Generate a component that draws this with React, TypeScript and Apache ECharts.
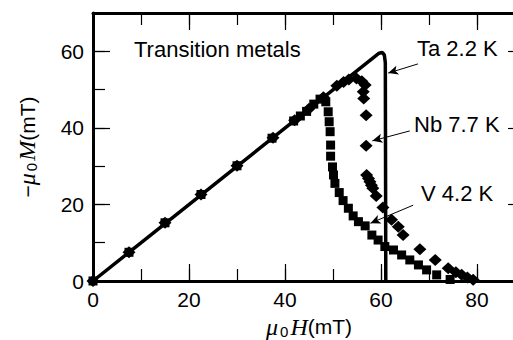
import React, { useEffect, useRef } from "react";
import * as echarts from "echarts";

// Ta 2.2 K : solid line (field, magnetisation) in mT
const taLine: number[][] = [
  [0, 0], [59.6, 59.5], [60.3, 59.7], [60.7, 59.0], [60.9, 57.0], [61.0, 0],
];

// Nb 7.7 K : diamonds
const nbPoints: number[][] = [
  [0, 0], [7.5, 7.5], [15, 15.2], [22.5, 22.6], [30, 30.1], [37.5, 37.4],
  [42, 42], [45, 45], [48, 48], [50.8, 51.0], [52.2, 52.0], [53.3, 52.6],
  [54.9, 52.9], [56.0, 52.2], [56.7, 51.2], [56.3, 49.4], [56.4, 47.7],
  [56.9, 43.3], [56.9, 35.3], [57.0, 27.7], [57.4, 26.8], [57.7, 25.9],
  [58.0, 25.0], [58.3, 24.2], [59.0, 22.2], [60.4, 19.2], [62.2, 16.0],
  [63.6, 14.2], [64.6, 12.0], [68.1, 8.3], [71.3, 5.5], [74.0, 3.3],
  [75.6, 2.3], [76.8, 1.6], [78.0, 0.9], [79.2, 0.3],
];

// V 4.2 K : squares
const vPoints: number[][] = [
  [0, 0], [7.5, 7.5], [15, 15.2], [22.5, 22.6], [30, 30.1], [37.3, 37.3],
  [41.8, 41.8], [43.2, 43.1], [44.5, 44.3], [46.0, 46.2], [47.3, 47.5],
  [48.5, 46.8], [49.0, 44.2], [49.2, 41.6], [49.4, 39.0], [49.5, 35.5],
  [49.5, 32.6], [49.9, 29.8], [50.1, 27.7], [50.4, 25.5], [51.3, 23.1],
  [52.1, 21.0], [53.2, 19.0], [54.2, 17.0], [55.3, 15.5], [56.7, 14.4],
  [58.1, 12.0], [59.4, 10.7], [60.8, 9.0], [62.6, 8.1], [64.3, 6.8],
  [66.0, 5.5], [67.8, 4.2], [69.5, 2.9], [71.6, 1.6], [74.4, 0.4],
];

// annotation arrows: [from, to] in data coordinates
const taArrow: number[][] = [[67.7, 56.7], [61.5, 54.3]];
const nbArrow: number[][] = [[66.0, 39.2], [58.2, 36.6]];
const vArrow: number[][] = [[66.7, 19.8], [57.8, 15.1]];

const labels = {
  title: "Transition metals",
  ta: "Ta 2.2 K",
  nb: "Nb 7.7 K",
  v: "V 4.2 K",
};

const SANS = '"Liberation Sans", Arial, Helvetica, sans-serif';
const SERIF = '"Liberation Serif", "DejaVu Serif", serif';

const richName = {
  it: { fontFamily: SERIF, fontStyle: "italic" as const, fontSize: 24, color: "#000" },
  sub: { fontFamily: SANS, fontSize: 15, color: "#000", verticalAlign: "bottom" as const, lineHeight: 10, padding: [0, 2, 0, 2] },
  n: { fontFamily: SANS, fontSize: 21, color: "#000" },
};

export default function App() {
  const ref = useRef<HTMLDivElement>(null);
  useEffect(() => {
    if (!ref.current) return;
    const chart = echarts.init(ref.current, undefined, { renderer: "svg" });
    const tickStyle = { color: "#000", width: 1.2 };
    const lineStyle = { color: "#000", width: 3 };
    const fmt = (v: number) => (v % 20 === 0 ? String(v) : "");
    const mk = (pos: string, interval: number, main: boolean, labels: boolean, extra: any = {}) => ({
      type: "value",
      position: pos,
      min: 0,
      interval,
      axisLine: { show: main, onZero: false, lineStyle },
      axisTick: { show: true, inside: true, length: main ? 17 : 12, lineStyle: tickStyle },
      axisLabel: labels
        ? { show: true, formatter: fmt, color: "#000", fontSize: 21, fontFamily: SANS }
        : { show: false },
      splitLine: { show: false },
      ...extra,
    });
    const arrow = (pts: number[][]) => [
      { coord: pts[0], symbol: "none" },
      { coord: pts[1], symbol: "arrow" },
    ];
    chart.setOption({
      animation: false,
      backgroundColor: "#fff",
      grid: { left: 93, top: 13, width: 432, height: 268, containLabel: false, outerBoundsMode: "none" },
      xAxis: [
        mk("bottom", 20, true, true, {
          max: 90,
          axisLabel: { show: true, formatter: fmt, color: "#000", fontSize: 21, fontFamily: SANS, margin: 8 },
          name: "{it|μ}{sub|0}{it|H}{n|(mT)}",
          nameLocation: "middle",
          nameGap: 31,
          nameTextStyle: { rich: richName, fontSize: 21, color: "#000" },
        }),
        mk("bottom", 10, false, false, { max: 90 }),
        mk("top", 20, true, false, { max: 90 }),
        mk("top", 10, false, false, { max: 90 }),
      ],
      yAxis: [
        mk("left", 20, true, true, {
          max: 70,
          axisLabel: { show: true, formatter: fmt, color: "#000", fontSize: 21, fontFamily: SANS, margin: 9 },
          name: "{n|−}{it|μ}{sub|0}{it|M}{n|(mT)}",
          nameLocation: "middle",
          nameGap: 54,
          nameTextStyle: { rich: richName, fontSize: 21, color: "#000" },
        }),
        mk("left", 10, false, false, { max: 70 }),
        mk("right", 20, true, false, { max: 70 }),
        mk("right", 10, false, false, { max: 70 }),
      ],
      series: [
        {
          type: "scatter",
          name: "V 4.2 K",
          data: vPoints,
          symbol: "rect",
          symbolSize: 9,
          itemStyle: { color: "#000", opacity: 1 },
          xAxisIndex: 0,
          yAxisIndex: 0,
        },
        {
          type: "scatter",
          name: "Nb 7.7 K",
          data: nbPoints,
          symbol: "diamond",
          symbolSize: [13, 12],
          itemStyle: { color: "#000", opacity: 1 },
          xAxisIndex: 0,
          yAxisIndex: 0,
        },
        {
          type: "line",
          name: "Ta 2.2 K",
          data: taLine,
          showSymbol: false,
          symbol: "none",
          smooth: false,
          lineStyle: { color: "#000", width: 3.5 },
          xAxisIndex: 0,
          yAxisIndex: 0,
          markLine: {
            silent: true,
            symbolSize: [7, 10],
            label: { show: false },
            lineStyle: { color: "#000", width: 1, type: "solid" },
            data: [arrow(taArrow), arrow(nbArrow), arrow(vArrow)],
          },
        },
      ],
      graphic: [
        { type: "text", x: 134, y: 49, style: { text: labels.title, font: `22px ${SANS}`, fill: "#000", verticalAlign: "middle" } },
        { type: "text", x: 417, y: 48, style: { text: labels.ta, font: `22px ${SANS}`, fill: "#000", verticalAlign: "middle" } },
        { type: "text", x: 414, y: 124, style: { text: labels.nb, font: `22px ${SANS}`, fill: "#000", verticalAlign: "middle" } },
        { type: "text", x: 421, y: 193, style: { text: labels.v, font: `22px ${SANS}`, fill: "#000", verticalAlign: "middle" } },
      ],
    });
    return () => chart.dispose();
  }, []);
  return (
    <div
      ref={ref}
      style={{ position: "absolute", left: 0, top: 0, width: 513, height: 340 }}
    />
  );
}
